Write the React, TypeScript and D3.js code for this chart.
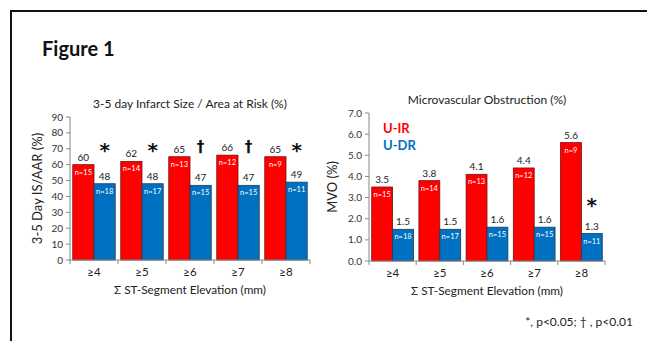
import React from 'react';
import * as d3 from 'd3';

const width = 647;
const height = 341;
const font = 'Lato, "Open Sans", sans-serif';

const categories = ['≥4', '≥5', '≥6', '≥7', '≥8'];
const irisValues = [60, 62, 65, 66, 65];
const iadrValues = [48, 48, 47, 47, 49];
const mvoIrValues = [3.5, 3.8, 4.1, 4.4, 5.6];
const mvoDrValues = [1.5, 1.5, 1.6, 1.6, 1.3];
const irN = [15, 14, 13, 12, 9];
const drN = [18, 17, 15, 15, 11];
const isMarks = ['*', '*', '†', '†', '*'];
const mvoMarks = ['', '', '', '', '*'];

const RED = '#ff0000';
const BLUE = '#0070c0';

type PanelProps = {
    left: number;
    right: number;
    top: number;
    bottom: number;
    max: number;
    step: number;
    decimals: number;
    irVals: number[];
    drVals: number[];
    marks: string[];
    markLevel: number;
    title: string;
    yTitle: string;
    yTitleX: number;
    legend?: boolean;
};

function Panel(p: PanelProps) {
    const x = d3.scaleBand().domain(categories).range([p.left, p.right]).paddingInner(0).paddingOuter(0);
    const y = d3.scaleLinear().domain([0, p.max]).range([p.bottom, p.top]);
    const inner = d3.scaleBand().domain(['ir', 'dr']).range([0, x.bandwidth()]).paddingOuter(0.13).paddingInner(0);
    const ticks = d3.range(0, p.max + p.step / 2, p.step);
    const fmt = (v: number) => v.toFixed(p.decimals);
    const midX = (p.left + p.right) / 2;
    const bw = inner.bandwidth();

    return (
        <g fontFamily={font}>
            <text x={midX} y={p.top - 9} textAnchor="middle" fontSize={12} fill="#222">{p.title}</text>
            <text transform={`translate(${p.yTitleX}, ${(p.top + p.bottom) / 2}) rotate(-90)`} textAnchor="middle" fontSize={13} fill="#222">{p.yTitle}</text>

            {/* y axis */}
            <line x1={p.left} x2={p.left} y1={p.top} y2={p.bottom} stroke="#888" />
            {ticks.map(t => (
                <g key={t}>
                    <line x1={p.left - 4} x2={p.left} y1={y(t)} y2={y(t)} stroke="#888" />
                    <text x={p.left - 7} y={y(t) + 3.5} textAnchor="end" fontSize={10} fill="#333">{fmt(t)}</text>
                </g>
            ))}

            {/* bars */}
            {categories.map((c, i) => {
                const gx = x(c) as number;
                const rx = gx + (inner('ir') as number);
                const bx = gx + (inner('dr') as number);
                return (
                    <g key={c}>
                        <rect x={rx} y={y(p.irVals[i])} width={bw} height={p.bottom - y(p.irVals[i])} fill={RED} stroke="#7a1010" strokeWidth={0.8} />
                        <rect x={bx} y={y(p.drVals[i])} width={bw} height={p.bottom - y(p.drVals[i])} fill={BLUE} stroke="#1f3d5c" strokeWidth={0.8} />
                        <text x={rx + bw / 2} y={y(p.irVals[i]) - 4} textAnchor="middle" fontSize={10} fill="#222">{fmt(p.irVals[i])}</text>
                        <text x={bx + bw / 2} y={y(p.drVals[i]) - 4} textAnchor="middle" fontSize={10} fill="#222">{fmt(p.drVals[i])}</text>
                        <text x={rx + bw / 2} y={y(p.irVals[i]) + 10} textAnchor="middle" fontSize={7.5} fill="#fff">n={irN[i]}</text>
                        <text x={bx + bw / 2} y={y(p.drVals[i]) + 10} textAnchor="middle" fontSize={7.5} fill="#fff">n={drN[i]}</text>
                        {p.marks[i] && (
                            <text x={bx + bw / 2} y={y(p.markLevel) + (p.marks[i] === '*' ? 10 : 5)} textAnchor="middle"
                                fontSize={p.marks[i] === '*' ? 20 : 15} fontWeight="bold" fill="#111" fontFamily='"DejaVu Sans", sans-serif'>{p.marks[i]}</text>
                        )}
                        <text x={gx + x.bandwidth() / 2} y={p.bottom + 16} textAnchor="middle" fontSize={11.5} fill="#222">{c}</text>
                    </g>
                );
            })}

            {/* x axis */}
            <line x1={p.left} x2={p.right} y1={p.bottom} y2={p.bottom} stroke="#888" />
            {d3.range(categories.length + 1).map(k => {
                const tx = p.left + k * x.step();
                return <line key={k} x1={tx} x2={tx} y1={p.bottom} y2={p.bottom + 4} stroke="#888" />;
            })}
            <text x={midX} y={p.bottom + 34} textAnchor="middle" fontSize={11.8} fill="#222">Σ ST-Segment Elevation (mm)</text>

            {p.legend && (
                <g fontWeight="bold" fontSize={13}>
                    <text x={p.left + 14} y={p.top + 20} fill={RED}>U-IR</text>
                    <text x={p.left + 14} y={p.top + 37} fill={BLUE}>U-DR</text>
                </g>
            )}
        </g>
    );
}

export default function App() {
    return (
        <svg width={width} height={height} style={{ position: 'absolute', left: 0, top: 0, background: '#fff' }}>
            <rect x={0} y={0} width={width} height={height} fill="#fff" />
            <rect x={11} y={11} width={width + 20} height={height + 20} fill="none" stroke="#111" strokeWidth={2} />
            <text x={42} y={56} fontFamily={font} fontWeight="bold" fontSize={20} fill="#111">Figure 1</text>

            <Panel left={70} right={310} top={117} bottom={260} max={90} step={10} decimals={0}
                irVals={irisValues} drVals={iadrValues} marks={isMarks} markLevel={71}
                title="3-5 day Infarct Size / Area at Risk (%)" yTitle="3-5 Day IS/AAR (%)" yTitleX={42} />
            <Panel left={369} right={605} top={113} bottom={261} max={7} step={1} decimals={1}
                irVals={mvoIrValues} drVals={mvoDrValues} marks={mvoMarks} markLevel={2.8}
                title="Microvascular Obstruction (%)" yTitle="MVO (%)" yTitleX={337} legend />

            <text x={633} y={326} textAnchor="end" fontFamily={font} fontSize={12} fill="#222">*, p&lt;0.05;  † , p&lt;0.01</text>
        </svg>
    );
}
